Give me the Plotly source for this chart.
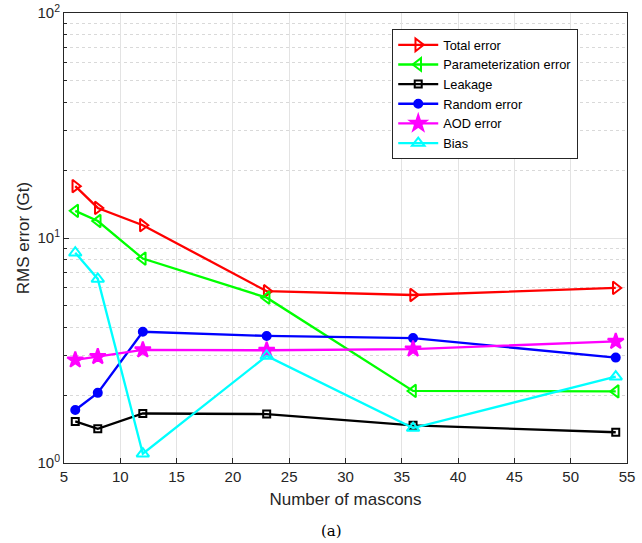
import plotly.graph_objects as go

# Number of mascons used in each solution
mascons = [6, 8, 12, 23, 36, 54]

# RMS error components (Gt)
total_error = [17.0, 13.6, 11.4, 5.8, 5.58, 6.0]
param_error = [13.2, 11.9, 8.1, 5.43, 2.09, 2.08]
leakage = [1.53, 1.42, 1.66, 1.65, 1.47, 1.37]
random_error = [1.72, 2.05, 3.83, 3.67, 3.59, 2.94]
aod_error = [2.87, 2.97, 3.18, 3.17, 3.21, 3.47]
bias = [8.6, 6.58, 1.10, 2.99, 1.43, 2.42]

series = [
    ("Total error", total_error, "#ff0000", "triangle-right-open", 11),
    ("Parameterization error", param_error, "#00ff00", "triangle-left-open", 11),
    ("Leakage", leakage, "#000000", "square-open", 7),
    ("Random error", random_error, "#0000ff", "circle", 8),
    ("AOD error", aod_error, "#ff00ff", "star", 12),
    ("Bias", bias, "#00ffff", "triangle-up-open", 11),
]

fig = go.Figure()
for name, vals, color, symbol, size in series:
    fig.add_trace(go.Scatter(
        x=mascons, y=vals, name=name, mode="lines+markers",
        line=dict(color=color, width=2.3),
        marker=dict(symbol=symbol, size=size, color=color,
                    line=dict(color=color, width=2)),
    ))

font_family = "Liberation Sans, Arial, Helvetica, sans-serif"
grid_major = "#e3e3e3"

fig.update_layout(
    width=642, height=543,
    margin=dict(l=64, r=15, t=13, b=80),
    paper_bgcolor="white", plot_bgcolor="white",
    font=dict(family=font_family, size=15, color="#262626"),
    showlegend=True,
    legend=dict(
        x=0.583, y=0.9644, xanchor="left", yanchor="top",
        bgcolor="white", bordercolor="#262626", borderwidth=1,
        font=dict(family=font_family, size=12.8, color="#000000"),
        tracegroupgap=0, itemwidth=40,
    ),
)

fig.update_xaxes(
    range=[5, 55], dtick=5, tick0=5, automargin=False,
    showline=True, linecolor="#262626", linewidth=1, mirror=True,
    ticks="inside", ticklen=5, tickcolor="#262626",
    tickfont=dict(size=15),
    showgrid=True, gridcolor=grid_major, gridwidth=1,
    zeroline=False,
    title=dict(text="Number of mascons", font=dict(size=17), standoff=9),
)

minor_vals = [m * d for d in (1, 10) for m in range(2, 10)]
fig.update_yaxes(
    type="log", range=[0, 2], automargin=False,
    tickvals=[1, 10, 100],
    ticktext=["10<sup>0</sup>", "10<sup>1</sup>", "10<sup>2</sup>"],
    tickfont=dict(size=15),
    showline=True, linecolor="#262626", linewidth=1, mirror=True,
    ticks="inside", ticklen=5, tickcolor="#262626",
    showgrid=True, gridcolor=grid_major, gridwidth=1,
    minor=dict(tickvals=minor_vals, ticks="inside", ticklen=3,
               tickcolor="#262626", showgrid=True,
               gridcolor="#d9d9d9", griddash="dot", gridwidth=1),
    zeroline=False,
    title=dict(text="RMS error (Gt)", font=dict(size=17), standoff=3),
)

fig.add_annotation(
    text="(a)", x=0.476, y=-0.151, xref="paper", yref="paper",
    xanchor="center", yanchor="middle", showarrow=False,
    font=dict(family="DejaVu Serif, Liberation Serif, serif", size=15, color="#000000"),
)

fig.write_html("out.html")
